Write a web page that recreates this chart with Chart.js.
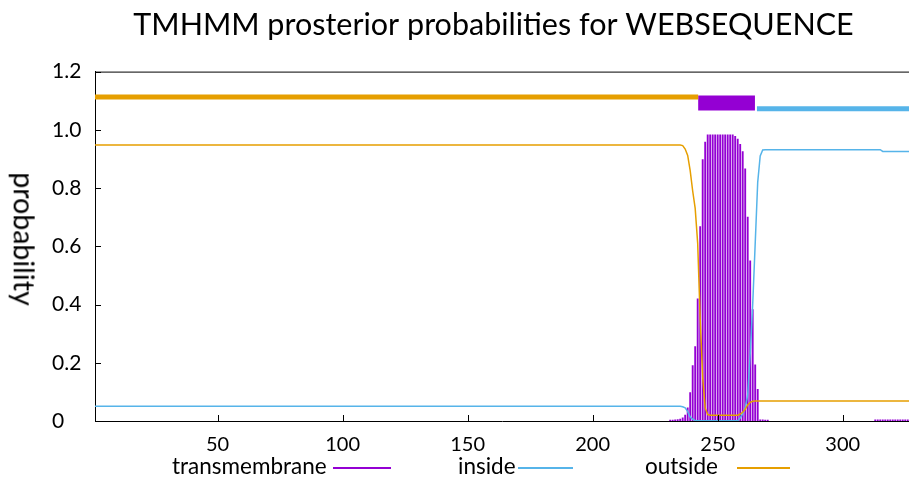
<!DOCTYPE html>
<html><head><meta charset="utf-8">
<script src="https://cdn.jsdelivr.net/npm/chart.js@4.4.0/dist/chart.umd.min.js"></script>
<style>
html,body{margin:0;padding:0;background:#fff;}
#wrap{position:relative;width:909px;height:478px;overflow:hidden;}
canvas{display:block;}
.txt{position:absolute;font-family:Lato,sans-serif;font-size:22.5px;color:#000;white-space:nowrap;line-height:26px;}
.sw{position:absolute;height:2px;}
#ytitle{position:absolute;font-family:Lato,sans-serif;font-size:28.5px;color:#000;white-space:nowrap;line-height:32px;transform-origin:center center;}
</style></head><body>
<div id="wrap"><canvas id="c" width="909" height="478"></canvas></div>
<script>
// ---- data ----
const titleText = "TMHMM prosterior probabilities for WEBSEQUENCE";
const yAxisTitle = "probability";
const seqLength = 327;
const xTicks = [50, 100, 150, 200, 250, 300];
const yTicks = [0, 0.2, 0.4, 0.6, 0.8, 1.0, 1.2];
const yTickLabels = ["0", "0.2", "0.4", "0.6", "0.8", "1.0", "1.2"];

const seriesNames = ["transmembrane", "inside", "outside"];
const seriesColors = ["#9400D3", "#56B4E9", "#E69F00"];

// transmembrane posterior probability (impulses), residues with visible marks
const tmResidues = [231,232,233,234,235,236,237,238,239,240,241,242,243,244,245,246,247,248,249,250,251,252,253,254,255,256,257,258,259,260,261,262,263,264,265,266,267,268,269,270,
  313,314,315,316,317,318,319,320,321,322,323,324,325,326,327];
const tmValues = [0.003,0.003,0.004,0.005,0.007,0.011,0.02,0.045,0.098,0.19,0.256,0.42,0.668,0.898,0.958,0.983,0.983,0.983,0.983,0.983,0.983,0.983,0.983,0.983,0.983,0.983,0.978,0.968,0.95,0.925,0.866,0.70,0.55,0.383,0.193,0.109,0.004,0.004,0.003,0.003,
  0.004,0.004,0.004,0.004,0.004,0.004,0.004,0.004,0.004,0.004,0.004,0.004,0.004,0.004,0.004];

// inside posterior probability (line breakpoints)
const insideX = [1,235,236,237,238,239,240,241,242,258,259,260,261,262,263,264,265,266,267,268,269,315,316,327];
const insideY = [0.051,0.051,0.049,0.045,0.032,0.014,0.006,0.002,0.001,0.001,0.01,0.025,0.045,0.09,0.23,0.40,0.61,0.82,0.91,0.931,0.932,0.932,0.926,0.926];

// outside posterior probability (line breakpoints)
const outsideX = [1,235,236,237,238,239,240,241,242,243,244,245,246,247,258,259,260,261,262,263,264,265,327];
const outsideY = [0.948,0.948,0.946,0.934,0.912,0.86,0.79,0.73,0.61,0.35,0.15,0.045,0.022,0.02,0.02,0.024,0.03,0.04,0.055,0.064,0.068,0.069,0.069];

// predicted topology bars along the top
const topoType = ["outside", "transmembrane", "inside"];
const topoStart = [1, 242.2, 265.7];
const topoEnd = [242.2, 264.9, 327];
const topoLevel = [1.113, 1.092, 1.072];

// x range visible in the (right-cropped) picture
const xMin = 1, xMax = 326.5;

// ---- build chart ----
const colorOf = name => seriesColors[seriesNames.indexOf(name)];
const pts = (xs, ys) => xs.map((x, i) => ({x: x, y: ys[i]}));

const datasets = [];
datasets.push({
  type: 'bar', label: 'transmembrane',
  data: pts(tmResidues, tmValues),
  backgroundColor: colorOf('transmembrane'),
  barThickness: 1.2, grouped: false, order: 5
});
datasets.push({
  type: 'line', label: 'inside', data: pts(insideX, insideY),
  borderColor: colorOf('inside'), borderWidth: 1.5, pointRadius: 0, tension: 0, order: 2
});
datasets.push({
  type: 'line', label: 'outside', data: pts(outsideX, outsideY),
  borderColor: colorOf('outside'), borderWidth: 1.5, pointRadius: 0, tension: 0, order: 1
});
topoType.forEach((t, i) => {
  datasets.push({
    type: 'line', label: 'topology ' + t,
    data: [{x: topoStart[i], y: topoLevel[i]}, {x: topoEnd[i], y: topoLevel[i]}],
    borderColor: colorOf(t), borderWidth: t === 'transmembrane' ? 15 : 5,
    borderCapStyle: 'butt', pointRadius: 0, tension: 0, order: 0, clip: false
  });
});

const tickMarks = {
  id: 'tickMarks',
  afterDraw(chart) {
    const {ctx, chartArea: a, scales: {x, y}} = chart;
    ctx.save();
    ctx.strokeStyle = '#000';
    ctx.lineWidth = 1;
    ctx.beginPath();
    x.ticks.forEach((t, i) => {
      const px = Math.round(x.getPixelForTick(i)) + 0.5;
      ctx.moveTo(px, a.bottom); ctx.lineTo(px, a.bottom - 6);
    });
    y.ticks.forEach((t, i) => {
      const py = Math.round(y.getPixelForTick(i)) + 0.5;
      ctx.moveTo(a.left, py); ctx.lineTo(a.left + 6, py);
    });
    ctx.moveTo(a.left, a.top + 0.5); ctx.lineTo(a.right, a.top + 0.5);
    ctx.stroke();
    ctx.restore();
  }
};

const chart = new Chart(document.getElementById('c'), {
  type: 'line',
  data: {datasets: datasets},
  plugins: [tickMarks],
  options: {
    responsive: false, animation: false, devicePixelRatio: 1,
    layout: {padding: {left: 52, right: -26, top: 0, bottom: 0}},
    plugins: {
      legend: {display: false}, tooltip: {enabled: false},
      title: {display: true, text: titleText, color: '#000',
        font: {family: 'Lato', size: 30.5, weight: 'normal'}, padding: {top: 7, bottom: 28}}
    },
    scales: {
      x: {
        type: 'linear', min: xMin, max: xMax, offset: false,
        afterBuildTicks: s => { s.ticks = xTicks.map(v => ({value: v})); },
        afterFit: s => { s.height = 57; },
        ticks: {color: '#000', font: {family: 'Lato', size: 20}, padding: 12, maxRotation: 0, autoSkip: false},
        grid: {display: false, drawTicks: false, offset: false},
        border: {display: true, color: '#000', width: 1}
      },
      y: {
        type: 'linear', min: 0, max: 1.2,
        afterBuildTicks: s => { s.ticks = yTicks.map(v => ({value: v})); },
        afterFit: s => { s.width = 43; },
        ticks: {color: '#000', font: {family: 'Lato', size: 21}, crossAlign: 'far', padding: 4,
          callback: v => yTickLabels[yTicks.indexOf(v)]},
        grid: {display: false, drawTicks: false},
        border: {display: true, color: '#000', width: 1}
      }
    }
  }
});

// y axis title (reads top to bottom) and gnuplot-style key
const wrap = document.getElementById('wrap');
const yt = document.createElement('div');
yt.id = 'ytitle'; yt.textContent = yAxisTitle;
wrap.appendChild(yt);
const w = yt.offsetWidth, h = yt.offsetHeight;
yt.style.left = (24 - w / 2) + 'px';
yt.style.top = (239 - h / 2) + 'px';
yt.style.transform = 'rotate(90deg)';

const legendTextLeft = [172, 458, 645];
const legendLineLeft = [333, 518, 737];
const legendLineWidth = [58, 55, 53];
seriesNames.forEach((n, i) => {
  const t = document.createElement('div');
  t.className = 'txt'; t.textContent = n;
  t.style.left = legendTextLeft[i] + 'px'; t.style.top = '453px';
  wrap.appendChild(t);
  const s = document.createElement('div');
  s.className = 'sw'; s.style.background = seriesColors[i];
  s.style.left = legendLineLeft[i] + 'px'; s.style.width = legendLineWidth[i] + 'px'; s.style.top = '467px';
  wrap.appendChild(s);
});
</script>
</body></html>
